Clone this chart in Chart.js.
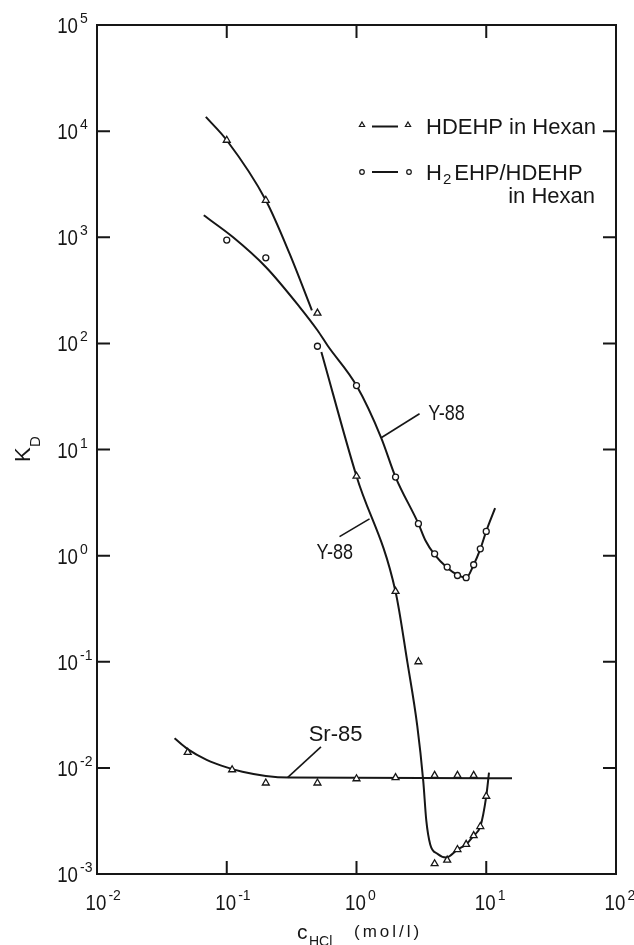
<!DOCTYPE html>
<html>
<head>
<meta charset="utf-8">
<title>KD vs cHCl</title>
<script src="https://cdn.jsdelivr.net/npm/chart.js@4.4.1/dist/chart.umd.min.js"></script>
<style>
    html, body { margin: 0; padding: 0; background: #fff; }
    #wrapper { position: relative; width: 634px; height: 945px; }
</style>
</head>
<body>
<div id="wrapper"><canvas id="chart"></canvas></div>
<script>
const xDecades = [-2, -1, 0, 1, 2];
const yDecades = [5, 4, 3, 2, 1, 0, -1, -2, -3];

// triangles, HDEHP in Hexan (Y-88)
const hdehpConc = [0.1, 0.2, 0.5, 1, 2, 3, 4, 5, 6, 7, 8, 9, 10];
const hdehpKd = [8200, 2230, 193, 5.6, 0.46, 0.1, 0.00125, 0.00135, 0.0017, 0.0019, 0.0023, 0.0028, 0.0054];

// circles, H2EHP/HDEHP in Hexan (Y-88)
const mixConc = [0.1, 0.2, 0.5, 1, 2, 3, 4, 5, 6, 7, 8, 9, 10];
const mixKd = [940, 640, 94, 40, 5.5, 2.0, 1.04, 0.78, 0.65, 0.62, 0.82, 1.16, 1.69];

// triangles, Sr-85
const srConc = [0.05, 0.11, 0.2, 0.5, 1, 2, 4, 6, 8];
const srKd = [0.014, 0.0096, 0.0072, 0.0072, 0.0079, 0.0081, 0.0085, 0.0085, 0.0085];

// drawn curves
const hdehpCurveConcA = [0.069, 0.1, 0.2, 0.305, 0.453];
const hdehpCurveKdA = [13600, 8200, 2230, 700, 205];
const hdehpCurveConcB = [0.536, 1.0, 2.0, 2.47, 2.94, 3.27, 3.45, 3.7, 4.2, 4.92, 6, 7, 8, 9, 10, 10.5];
const hdehpCurveKdB = [83, 5.6, 0.457, 0.098, 0.0249, 0.0075, 0.0032, 0.0019, 0.00155, 0.00143, 0.0017, 0.0019, 0.0023, 0.0028, 0.0054, 0.009];
const mixCurveConc = [0.0665, 0.112, 0.2, 0.365, 0.5, 0.6, 1.0, 1.55, 2.0, 3.0, 3.4, 4, 5, 6, 7, 8, 9, 10, 11.7];
const mixCurveKd = [1610, 1000, 525, 220, 133, 95, 40, 12.9, 5.5, 2.0, 1.39, 1.02, 0.77, 0.66, 0.62, 0.82, 1.15, 1.7, 2.8];
const srCurveConc = [0.0396, 0.05, 0.07, 0.1, 0.132, 0.2, 0.3, 15.8];
const srCurveKd = [0.019, 0.0150, 0.0119, 0.0101, 0.0092, 0.0084, 0.0081, 0.0080];

// labels on the curves and their leader lines
const noteLabels = ['Y-88', 'Y-88', 'Sr-85'];
const noteConc = [3.58, 0.492, 0.428];
const noteKd = [22.8, 1.11, 0.0214];
const leaderConc = [[3.06, 1.55], [0.74, 1.26], [0.532, 0.294]];
const leaderKd = [[21.7, 12.9], [1.51, 2.22], [0.0158, 0.0081]];

const ink = '#161616';
const fontFamily = '"Liberation Sans", Arial, Helvetica, sans-serif';
const noteSqueeze = [0.82, 0.82, 1.0];
const digitSqueeze = 0.85;

function toPoints(xs, ys) {
    return xs.map((x, i) => ({ x: x, y: ys[i] }));
}

function markerSet(label, xs, ys, style, radius) {
    return {
        label: label,
        data: toPoints(xs, ys),
        showLine: false,
        pointStyle: style,
        pointRadius: radius,
        pointBorderWidth: 1.3,
        pointBorderColor: ink,
        pointBackgroundColor: '#fff',
        order: 0
    };
}

function curveSet(label, xs, ys, width, smooth) {
    return {
        label: label,
        data: toPoints(xs, ys),
        showLine: true,
        borderColor: ink,
        borderWidth: width,
        pointRadius: 0,
        cubicInterpolationMode: smooth ? 'monotone' : 'default',
        tension: 0,
        fill: false,
        order: 1
    };
}

function drawPower(ctx, exp, x, baseline, anchor) {
    ctx.font = '22px ' + fontFamily;
    const w = ctx.measureText('10').width * digitSqueeze;
    const left = anchor === 'right' ? x - w : x - w / 2;
    ctx.save();
    ctx.translate(left, baseline);
    ctx.scale(digitSqueeze, 1);
    ctx.fillText('10', 0, 0);
    ctx.restore();
    ctx.font = '14px ' + fontFamily;
    ctx.fillText(String(exp), left + w + 2, baseline - 10);
}

function drawTriangle(ctx, x, y, r) {
    ctx.beginPath();
    ctx.moveTo(x, y - r);
    ctx.lineTo(x + r * 0.87, y + r * 0.5);
    ctx.lineTo(x - r * 0.87, y + r * 0.5);
    ctx.closePath();
    ctx.stroke();
}

function drawCircle(ctx, x, y, r) {
    ctx.beginPath();
    ctx.arc(x, y, r, 0, Math.PI * 2);
    ctx.stroke();
}

function drawLegend(ctx) {
    ctx.lineWidth = 1.2;
    drawTriangle(ctx, 362, 125, 3);
    drawTriangle(ctx, 408, 125, 3);
    drawCircle(ctx, 362, 172, 2.3);
    drawCircle(ctx, 409, 172, 2.3);
    ctx.lineWidth = 2;
    ctx.beginPath();
    ctx.moveTo(372, 126.5); ctx.lineTo(398, 126.5);
    ctx.moveTo(372, 172); ctx.lineTo(398, 172);
    ctx.stroke();

    ctx.textAlign = 'left';
    ctx.font = '22px ' + fontFamily;
    ctx.fillText('HDEHP in Hexan', 426, 134);
    ctx.fillText('H', 426, 180);
    let x = 426 + ctx.measureText('H').width + 1;
    ctx.font = '15px ' + fontFamily;
    ctx.fillText('2', x, 184);
    x += ctx.measureText('2').width + 3;
    ctx.font = '22px ' + fontFamily;
    ctx.fillText('EHP/HDEHP', x, 180);
    ctx.textAlign = 'right';
    ctx.fillText('in Hexan', 595, 203);
    ctx.textAlign = 'left';
}

function drawAxisTitles(ctx) {
    ctx.save();
    ctx.translate(30, 462);
    ctx.rotate(-Math.PI / 2);
    ctx.font = '22px ' + fontFamily;
    ctx.fillText('K', 0, 0);
    ctx.font = '15px ' + fontFamily;
    ctx.fillText('D', 15, 10);
    ctx.restore();

    ctx.font = '21px ' + fontFamily;
    ctx.fillText('c', 297, 939);
    ctx.font = '14px ' + fontFamily;
    ctx.fillText('HCl', 309, 946);
    ctx.save();
    ctx.font = '17px ' + fontFamily;
    ctx.letterSpacing = '3px';
    ctx.fillText('(mol/l)', 354, 937);
    ctx.restore();
}

const framePlugin = {
    id: 'frame',
    afterDatasetsDraw(chart) {
        const ctx = chart.ctx;
        const a = chart.chartArea;
        const xs = chart.scales.x;
        const ys = chart.scales.y;
        ctx.save();
        ctx.strokeStyle = ink;
        ctx.fillStyle = ink;
        ctx.lineWidth = 2;
        ctx.strokeRect(a.left, a.top, a.right - a.left, a.bottom - a.top);

        ctx.beginPath();
        xDecades.slice(1, -1).forEach(d => {
            const px = xs.getPixelForValue(Math.pow(10, d));
            ctx.moveTo(px, a.top); ctx.lineTo(px, a.top + 13);
            ctx.moveTo(px, a.bottom); ctx.lineTo(px, a.bottom - 13);
        });
        yDecades.slice(1, -1).forEach(d => {
            const py = ys.getPixelForValue(Math.pow(10, d));
            ctx.moveTo(a.left, py); ctx.lineTo(a.left + 13, py);
            ctx.moveTo(a.right, py); ctx.lineTo(a.right - 13, py);
        });
        ctx.stroke();

        ctx.textAlign = 'left';
        ctx.textBaseline = 'alphabetic';
        xDecades.forEach(d => {
            drawPower(ctx, d, xs.getPixelForValue(Math.pow(10, d)) - 1, a.bottom + 36, 'center');
        });
        yDecades.forEach(d => {
            drawPower(ctx, d, a.left - 19, ys.getPixelForValue(Math.pow(10, d)) + 8, 'right');
        });

        noteLabels.forEach((t, i) => {
            ctx.save();
            ctx.font = '22px ' + fontFamily;
            ctx.translate(xs.getPixelForValue(noteConc[i]), ys.getPixelForValue(noteKd[i]) + 8);
            ctx.scale(noteSqueeze[i], 1);
            ctx.fillText(t, 0, 0);
            ctx.restore();
        });

        drawLegend(ctx);
        drawAxisTitles(ctx);
        ctx.restore();
    }
};

const datasets = [
    markerSet('HDEHP in Hexan', hdehpConc, hdehpKd, 'triangle', 4),
    markerSet('H2EHP/HDEHP in Hexan', mixConc, mixKd, 'circle', 3),
    markerSet('Sr-85', srConc, srKd, 'triangle', 4),
    curveSet('HDEHP curve a', hdehpCurveConcA, hdehpCurveKdA, 2, true),
    curveSet('HDEHP curve b', hdehpCurveConcB, hdehpCurveKdB, 2, true),
    curveSet('H2EHP/HDEHP curve', mixCurveConc, mixCurveKd, 2, true),
    curveSet('Sr-85 curve', srCurveConc, srCurveKd, 2, true)
];
leaderConc.forEach((xs, i) => {
    datasets.push(curveSet('leader ' + i, xs, leaderKd[i], 1.6, false));
});

const chart = new Chart(document.getElementById('chart'), {
    type: 'scatter',
    data: { datasets: datasets },
    options: {
        responsive: true,
        maintainAspectRatio: false,
        animation: false,
        devicePixelRatio: 1,
        layout: { padding: { left: 97, right: 18, top: 25, bottom: 71 } },
        scales: {
            x: { type: 'logarithmic', min: 0.01, max: 100, display: false },
            y: { type: 'logarithmic', min: 0.001, max: 100000, display: false }
        },
        plugins: {
            legend: { display: false },
            tooltip: { enabled: false }
        }
    },
    plugins: [framePlugin]
});
</script>
</body>
</html>
